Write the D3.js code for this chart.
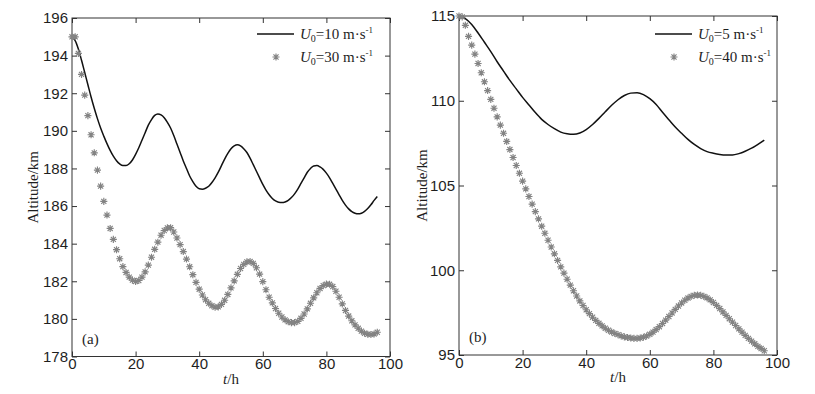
<!DOCTYPE html>
<html>
<head>
<meta charset="utf-8">
<script src="https://cdn.jsdelivr.net/npm/d3@7"></script>
<style>
    body{margin:0;background:#fff;}
    svg{display:block;font-family:'Liberation Serif','Times New Roman',serif;}
    .tick text{font-size:15px;fill:#1e1e1e;}
    .tick line{stroke:#333;}
    .frame{fill:none;stroke:#333;stroke-width:1;}
    .lbl{font-size:15px;fill:#1e1e1e;}
</style>
</head>
<body>
<script>
// time axis, one sample per hour (markers) / every 2 h (line b)
const hours = d3.range(0, 97);
const hours2 = d3.range(0, 97, 2);
const ticksX = [0, 20, 40, 60, 80, 100];
const ticksA = [178, 180, 182, 184, 186, 188, 190, 192, 194, 196];
const ticksB = [95, 100, 105, 110, 115];

// (a) U0=10 m/s, solid line
const altA10 = [
    195.0, 194.8, 194.35, 193.75, 193.1, 192.45, 191.8, 191.2, 190.65, 190.15,
    189.72, 189.32, 188.96, 188.65, 188.41, 188.24, 188.15, 188.15, 188.25, 188.45,
    188.75, 189.1, 189.5, 189.9, 190.3, 190.6, 190.82, 190.9, 190.85, 190.7,
    190.45, 190.15, 189.75, 189.3, 188.85, 188.4, 188.0, 187.6, 187.3, 187.05,
    186.92, 186.9, 186.95, 187.05, 187.25, 187.5, 187.8, 188.15, 188.5, 188.8,
    189.05, 189.2, 189.26, 189.2, 189.05, 188.85, 188.55, 188.2, 187.85, 187.5,
    187.15, 186.85, 186.6, 186.4, 186.27, 186.2, 186.19, 186.22, 186.3, 186.45,
    186.65, 186.9, 187.2, 187.5, 187.8, 188.0, 188.13, 188.15, 188.08, 187.95,
    187.75, 187.5, 187.2, 186.9, 186.6, 186.3, 186.05, 185.85, 185.7, 185.62,
    185.59, 185.62, 185.72, 185.87, 186.07, 186.3, 186.51];
// (a) U0=30 m/s, markers
const altA30 = [
    195.0, 195.0, 194.12, 193.0, 191.9, 190.81, 189.79, 188.83, 187.91, 187.06,
    186.25, 185.52, 184.81, 184.23, 183.68, 183.2, 182.78, 182.47, 182.22, 182.06,
    181.99, 182.04, 182.22, 182.5, 182.86, 183.28, 183.7, 184.08, 184.45, 184.7,
    184.84, 184.85, 184.62, 184.3, 183.95, 183.58, 183.18, 182.77, 182.35, 181.94,
    181.58, 181.27, 181.02, 180.83, 180.7, 180.62, 180.64, 180.77, 180.99, 181.3,
    181.65, 182.02, 182.37, 182.68, 182.9, 183.03, 183.05, 182.95, 182.72, 182.38,
    181.98, 181.55, 181.15, 180.85, 180.55, 180.3, 180.1, 179.95, 179.85, 179.8,
    179.8, 179.87, 180.03, 180.26, 180.53, 180.83, 181.12, 181.39, 181.62, 181.77,
    181.85, 181.84, 181.72, 181.47, 181.15, 180.8, 180.45, 180.15, 179.9, 179.68,
    179.5, 179.35, 179.24, 179.18, 179.17, 179.2, 179.29];
// (b) U0=5 m/s, solid line (2 h steps)
const altB5 = [
    115.0, 114.85, 114.5, 114.0, 113.45, 112.9, 112.3, 111.75, 111.2, 110.7,
    110.2, 109.75, 109.3, 108.9, 108.6, 108.35, 108.15, 108.05, 108.02, 108.1,
    108.3, 108.6, 108.96, 109.35, 109.73, 110.06, 110.31, 110.45, 110.47, 110.36,
    110.12, 109.78, 109.32, 108.88, 108.45, 108.08, 107.72, 107.42, 107.18, 107.0,
    106.9, 106.83, 106.8, 106.8, 106.88, 107.02, 107.2, 107.43, 107.68];
// (b) U0=40 m/s, markers
const altB40 = [
    115.0, 114.95, 114.45, 113.8, 113.28, 112.75, 112.2, 111.65, 111.12, 110.6,
    110.08, 109.56, 109.05, 108.56, 108.08, 107.6, 107.12, 106.65, 106.18, 105.72,
    105.26, 104.8, 104.35, 103.9, 103.46, 103.03, 102.6, 102.18, 101.77, 101.37,
    100.97, 100.58, 100.2, 99.83, 99.47, 99.12, 98.79, 98.48, 98.19, 97.92,
    97.67, 97.44, 97.23, 97.04, 96.87, 96.72, 96.58, 96.46, 96.36, 96.27,
    96.2, 96.13, 96.07, 96.03, 96.0, 95.98, 95.98, 96.0, 96.05, 96.12,
    96.22, 96.35, 96.5, 96.67, 96.86, 97.06, 97.27, 97.48, 97.69, 97.89,
    98.07, 98.23, 98.36, 98.46, 98.52, 98.54, 98.52, 98.46, 98.37, 98.25,
    98.1, 97.93, 97.74, 97.54, 97.34, 97.14, 96.94, 96.74, 96.54, 96.35,
    96.16, 95.98, 95.82, 95.66, 95.51, 95.38, 95.25];

// matlab style '*' marker: plus + cross
const asterisk = {
    draw(ctx, size){
        const r = Math.sqrt(size)/2, d = r*0.72;
        ctx.moveTo(-r,0); ctx.lineTo(r,0);
        ctx.moveTo(0,-r); ctx.lineTo(0,r);
        ctx.moveTo(-d,-d); ctx.lineTo(d,d);
        ctx.moveTo(-d,d); ctx.lineTo(d,-d);
    }
};

class AltitudePanel{

    // box = {left,right,top,bottom} in page pixels
    constructor(svg, box, yDomain, yTicks){
        this.box = box;
        this.g = svg.append('g');
        this.scaleX = d3.scaleLinear([0,100], [box.left, box.right]);
        this.scaleY = d3.scaleLinear(yDomain, [box.bottom, box.top]);
        this.yTicks = yTicks;
    }

    #axes(){
        const b = this.box, tk = 5;
        this.g.append('g').attr('transform', `translate(0,${b.bottom})`)
            .call(d3.axisBottom(this.scaleX).tickValues(ticksX).tickSizeInner(-tk).tickSizeOuter(0).tickPadding(2));
        this.g.append('g').attr('transform', `translate(0,${b.top})`)
            .call(d3.axisTop(this.scaleX).tickValues(ticksX).tickSizeInner(-tk).tickSizeOuter(0).tickFormat(''));
        this.g.append('g').attr('transform', `translate(${b.left},0)`)
            .call(d3.axisLeft(this.scaleY).tickValues(this.yTicks).tickSizeInner(-tk).tickSizeOuter(0).tickPadding(4));
        this.g.append('g').attr('transform', `translate(${b.right},0)`)
            .call(d3.axisRight(this.scaleY).tickValues(this.yTicks).tickSizeInner(-tk).tickSizeOuter(0).tickFormat(''));
        this.g.selectAll('.domain').remove();
        this.g.selectAll('.tick text').attr('font-family', null).attr('font-size', null);
        this.g.append('rect').classed('frame', true)
            .attr('x', b.left).attr('y', b.top)
            .attr('width', b.right-b.left).attr('height', b.bottom-b.top);
    }

    render(lineT, lineV, starT, starV){
        this.#axes();
        const line = d3.line().x(d=>this.scaleX(d[0])).y(d=>this.scaleY(d[1])).curve(d3.curveMonotoneX);
        this.g.append('path')
            .datum(d3.zip(lineT, lineV))
            .attr('d', line)
            .attr('fill', 'none').attr('stroke', '#111').attr('stroke-width', 1.5);
        this.g.selectAll('path.star')
            .data(d3.zip(starT, starV))
            .join('path').classed('star', true)
            .attr('transform', d=>`translate(${this.scaleX(d[0])},${this.scaleY(d[1])})`)
            .attr('d', d3.symbol(asterisk, 50))
            .attr('fill', 'none').attr('stroke', '#838383').attr('stroke-width', 1.15);
        return this;
    }

    setLabels(tag, labelX){
        const b = this.box, midY = (b.top+b.bottom)/2;
        this.g.append('text').classed('lbl', true)
            .attr('transform', `translate(${labelX},${midY})rotate(-90)`)
            .style('text-anchor', 'middle').text('Altitude/km');
        const xt = this.g.append('text').classed('lbl', true)
            .attr('x', (b.left+b.right)/2).attr('y', b.bottom+27)
            .style('text-anchor', 'middle');
        xt.append('tspan').attr('font-style', 'italic').text('t');
        xt.append('tspan').text('/h');
        this.g.append('text').classed('lbl', true)
            .attr('x', b.left+10).attr('y', b.bottom-13).text(tag);
        return this;
    }

    // entries: [speed, 'line'|'star']
    setLegend(x0, entries){
        const rows = [34, 57];
        entries.forEach(([speed, kind], i)=>{
            const y = rows[i];
            if(kind === 'line'){
                this.g.append('line').attr('x1', x0).attr('x2', x0+37)
                    .attr('y1', y).attr('y2', y)
                    .attr('stroke', '#111').attr('stroke-width', 1.5);
            } else {
                this.g.append('path')
                    .attr('transform', `translate(${x0+19},${y})`)
                    .attr('d', d3.symbol(asterisk, 50))
                    .attr('fill', 'none').attr('stroke', '#838383').attr('stroke-width', 1.15);
            }
            const t = this.g.append('text').classed('lbl', true)
                .attr('x', x0+43).attr('y', y+5);
            t.append('tspan').attr('font-style', 'italic').text('U');
            t.append('tspan').attr('font-size', 10).attr('dy', 3).text('0');
            t.append('tspan').attr('dy', -3).text(`=${speed} m·s`);
            t.append('tspan').attr('font-size', 9).attr('dy', -6).text('-1');
        });
        return this;
    }
}

const svg = d3.select('body').append('svg').attr('width', 815).attr('height', 394);

new AltitudePanel(svg, {left:72, right:390, top:18, bottom:356.5}, [178,196], ticksA)
    .render(hours, altA10, hours, altA30)
    .setLabels('(a)', 38)
    .setLegend(257, [[10,'line'], [30,'star']]);

new AltitudePanel(svg, {left:459, right:777, top:16, bottom:355}, [95,115], ticksB)
    .render(hours2, altB5, hours, altB40)
    .setLabels('(b)', 427)
    .setLegend(655, [[5,'line'], [40,'star']]);
</script>
</body>
</html>
